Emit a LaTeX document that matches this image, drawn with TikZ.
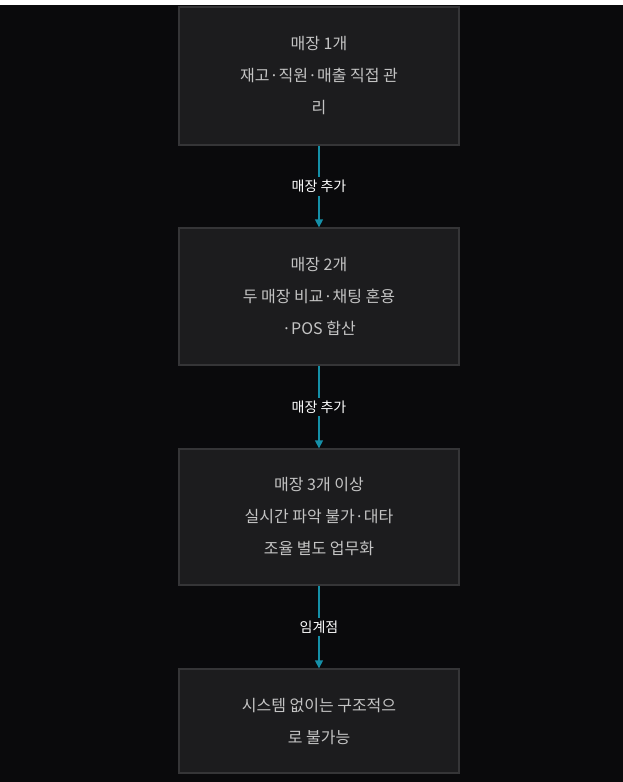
\documentclass[tikz,border=0pt]{standalone}
\usepackage{fontspec}
\setmainfont{Noto Sans CJK KR}
\usetikzlibrary{arrows.meta}
\definecolor{bg}{HTML}{0A0A0C}
\definecolor{boxfill}{HTML}{1C1C1E}
\definecolor{boxline}{HTML}{353537}
\definecolor{txt}{HTML}{C4C4C4}
\definecolor{arr}{HTML}{1590A8}
\begin{document}
\begin{tikzpicture}[x=0.75pt,y=-0.75pt,
  stepbox/.style={draw=boxline,line width=1pt,fill=boxfill,minimum width=210pt,text=txt,font=\fontsize{12}{24}\selectfont,align=center,inner sep=0pt},
  lbl/.style={fill=bg,text=white,font=\fontsize{10.5}{12}\selectfont,inner sep=2pt},
  conn/.style={draw=arr,line width=1pt,-{Triangle[length=6pt,width=6pt]}}]
\fill[bg] (0,0) rectangle (623,782);
\fill[white] (0,0) rectangle (623,5);
\node[stepbox,minimum height=103.5pt] (a) at (319,76) {매장 1개\\재고·직원·매출 직접 관\\리};
\node[stepbox,minimum height=102.75pt] (b) at (319,296.5) {매장 2개\\두 매장 비교·채팅 혼용\\·POS 합산};
\node[stepbox,minimum height=102pt] (c) at (319,517) {매장 3개 이상\\실시간 파악 불가·대타\\조율 별도 업무화};
\node[stepbox,minimum height=78pt] (d) at (319,721) {시스템 없이는 구조적으\\로 불가능};
\draw[conn] (a) -- node[lbl] {매장 추가} (b);
\draw[conn] (b) -- node[lbl] {매장 추가} (c);
\draw[conn] (c) -- node[lbl] {임계점} (d);
\end{tikzpicture}
\end{document}
